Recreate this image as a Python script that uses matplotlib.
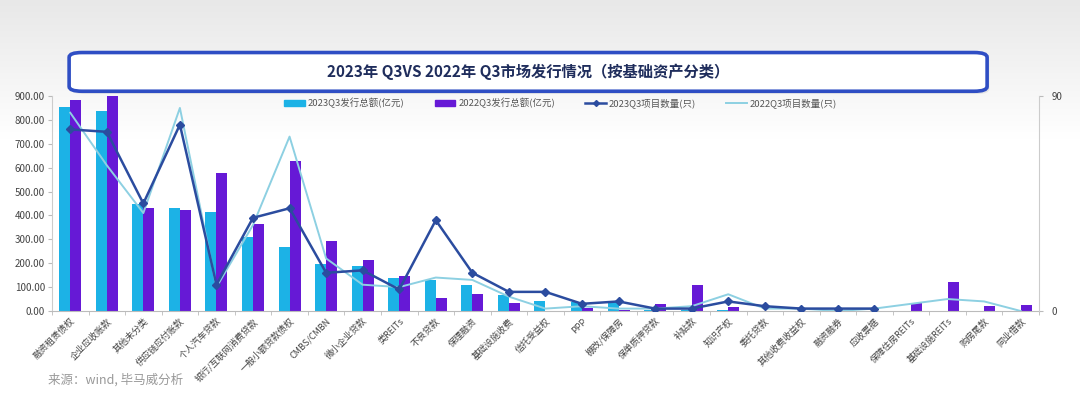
import numpy as np
import matplotlib.pyplot as plt
from matplotlib.patches import FancyBboxPatch
from matplotlib.lines import Line2D
from matplotlib.patches import Patch

plt.rcParams['font.family'] = ['Noto Sans CJK SC', 'DejaVu Sans']

categories = ['融资租赁债权', '企业应收账款', '其他未分类', '供应链应付账款', '个人汽车贷款',
              '银行/互联网消费贷款', '一般小额贷款债权', 'CMBS/CMBN', '微小企业贷款', '类REITs',
              '不良贷款', '保理融资', '基础设施收费', '信托受益权', 'PPP', '棚改/保障房',
              '保单质押贷款', '补贴款', '知识产权', '委托贷款', '其他收费收益权', '融资融券',
              '应收票据', '保障住房REITs', '基础设施REITs', '购房尾款', '同业借款']

amt_2023 = [852, 837, 446, 432, 415, 309, 268, 198, 189, 140, 131, 108, 68, 42, 36, 36,
            3, 5, 4, 0, 0, 0, 0, 0, 0, 0, 0]
amt_2022 = [883, 898, 432, 423, 576, 365, 627, 295, 214, 147, 55, 70, 35, 2, 13, 6,
            28, 107, 17, 0, 0, 0, 0, 32, 120, 21, 25]
cnt_2023 = [76, 75, 45, 78, 11, 39, 43, 16, 17, 9, 38, 16, 8, 8, 3, 4,
            1, 1, 4, 2, 1, 1, 1]
cnt_2022 = [83, 61, 41, 85, 10, 36, 73, 22, 11, 10, 14, 13, 6, 1, 2, 1,
            1, 2, 7, 1, 1, 0, 1, 3, 5, 4, 0]

c23 = '#1cb2e6'
c22 = '#6619d6'
cl23 = '#2b4c9f'
cl22 = '#8dd0e2'

fig = plt.figure(figsize=(10.8, 3.95), dpi=100)

# light grey shade at the top of the picture
bg = fig.add_axes([0, 0, 1, 1], zorder=-10)
grad = np.linspace(0, 1, 200).reshape(-1, 1)
shade = np.clip(grad / 0.35, 0, 1)
img = np.ones((200, 1, 3))
for i, v in enumerate([0.91, 0.91, 0.91]):
    img[:, 0, i] = v + (1 - v) * shade[:, 0]
bg.imshow(img, aspect='auto', extent=[0, 1, 0, 1], origin='upper')
bg.axis('off')

ax = fig.add_axes([0.0481, 0.2127, 0.9139, 0.5443])
ax.patch.set_alpha(0)
x = np.arange(len(categories))
w = 0.3
ax.bar(x - w / 2, amt_2023, w, color=c23, zorder=2)
ax.bar(x + w / 2, amt_2022, w, color=c22, zorder=2)
ax.set_xlim(-0.5, len(categories) - 0.5)
ax.set_ylim(0, 900)
ax.set_yticks(np.arange(0, 901, 100))
ax.set_yticklabels([f'{v:.2f}' for v in np.arange(0, 901, 100)])
ax.set_xticks(x)
ax.set_xticklabels(categories, rotation=45, ha='right', rotation_mode='anchor')
ax.set_xticks(np.arange(-0.5, len(categories), 1), minor=True)
ax.tick_params(axis='x', which='major', length=0, labelsize=6.5, labelcolor='#444444', pad=4)
ax.tick_params(axis='x', which='minor', length=3, color='#bbbbbb')
ax.tick_params(axis='y', labelsize=7, labelcolor='#444444', length=3, color='#bbbbbb', pad=2)
for s in ['top', 'right']:
    ax.spines[s].set_visible(False)
ax.spines['left'].set_color('#cccccc')
ax.spines['bottom'].set_color('#bbbbbb')

ax2 = ax.twinx()
ax2.plot(np.arange(len(cnt_2022)), cnt_2022, color=cl22, lw=1.4, zorder=3)
ax2.plot(np.arange(len(cnt_2023)), cnt_2023, color=cl23, lw=1.8, marker='D', ms=4, zorder=4)
ax2.set_ylim(0, 90)
ax2.set_yticks([0, 90])
ax2.tick_params(axis='y', labelsize=7, labelcolor='#444444', length=3, color='#bbbbbb', pad=6)
for s in ['top', 'left', 'bottom']:
    ax2.spines[s].set_visible(False)
ax2.spines['right'].set_color('#cccccc')

handles = [Patch(color=c23), Patch(color=c22),
           Line2D([], [], color=cl23, lw=1.8, marker='D', ms=3),
           Line2D([], [], color=cl22, lw=1.4)]
labels = ['2023Q3发行总额(亿元)', '2022Q3发行总额(亿元)', '2023Q3项目数量(只)', '2022Q3项目数量(只)']
fig.legend(handles, labels, loc='center', bbox_to_anchor=(0.519, 0.739), ncol=4,
           frameon=False, fontsize=6.8, labelcolor='#555555', columnspacing=3.2,
           handlelength=2.2, handleheight=0.6, handletextpad=0.3)

# title box
shadow = FancyBboxPatch((0.066, 0.762), 0.85, 0.098, boxstyle='round,pad=0,rounding_size=0.012',
                        transform=fig.transFigure, facecolor='#d9d9d9', edgecolor='none',
                        alpha=0.6, zorder=5)
fig.patches.append(shadow)
box = FancyBboxPatch((0.064, 0.769), 0.85, 0.098, boxstyle='round,pad=0,rounding_size=0.012',
                     transform=fig.transFigure, facecolor='white', edgecolor='#2f4ec4',
                     linewidth=2.6, zorder=6)
fig.patches.append(box)
fig.text(0.489, 0.818, '2023年 Q3VS 2022年 Q3市场发行情况（按基础资产分类）', ha='center', va='center',
         fontsize=11, fontweight='bold', color='#1f2d5c', zorder=7)

fig.text(0.044, 0.037, '来源：wind, 毕马威分析', fontsize=9, color='#999999', ha='left', va='center')

fig.savefig('out.png', dpi=100)
